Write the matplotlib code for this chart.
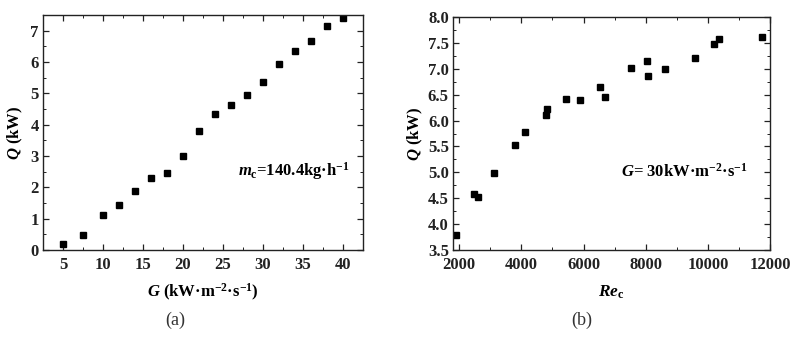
import matplotlib
matplotlib.use('Agg')
import matplotlib.pyplot as plt
from matplotlib.ticker import MultipleLocator, FormatStrFormatter

plt.rcParams['font.family'] = ['Liberation Serif', 'DejaVu Serif']
plt.rcParams['font.weight'] = 'bold'
plt.rcParams['mathtext.fontset'] = 'custom'
plt.rcParams['mathtext.rm'] = 'Liberation Serif:bold'
plt.rcParams['mathtext.it'] = 'Liberation Serif:italic:bold'
plt.rcParams['mathtext.bf'] = 'Liberation Serif:bold'

# (a) heat transfer vs mass flux
G_flux = [5, 7.5, 10, 12, 14, 16, 18, 20, 22, 24, 26, 28, 30, 32, 34, 36, 38, 40]
Q_a = [0.18, 0.47, 1.11, 1.43, 1.88, 2.30, 2.45, 3.01, 3.81, 4.33, 4.62, 4.95,
       5.37, 5.93, 6.35, 6.66, 7.16, 7.40]

# (b) heat transfer vs coolant Reynolds number
Re_c = [1910, 2490, 2600, 3135, 3795, 4130, 4790, 4830, 5430, 5900, 6530, 6680,
        7520, 8030, 8090, 8630, 9600, 10190, 10370, 11730]
Q_b = [3.79, 4.58, 4.52, 4.99, 5.52, 5.77, 6.10, 6.22, 6.41, 6.40, 6.65, 6.45,
       7.02, 7.15, 6.86, 6.99, 7.21, 7.47, 7.58, 7.62]

fig = plt.figure(figsize=(8, 3.38), dpi=100)
fig.patch.set_facecolor('white')
ax1 = fig.add_axes([43/800, 88/338, 320/800, 235/338])
ax2 = fig.add_axes([453/800, 88/338, 317/800, 233/338])

ax1.plot(G_flux, Q_a, 's', color='black', markersize=5)
ax2.plot(Re_c, Q_b, 's', color='black', markersize=5)

ax1.set_xlim(2.5, 42.5)
ax1.set_ylim(0, 7.5)
ax1.xaxis.set_major_locator(MultipleLocator(5))
ax1.xaxis.set_minor_locator(MultipleLocator(2.5))
ax1.yaxis.set_major_locator(MultipleLocator(1))
ax1.yaxis.set_minor_locator(MultipleLocator(0.5))

ax2.set_xlim(1800, 12000)
ax2.set_ylim(3.5, 8.0)
ax2.xaxis.set_major_locator(MultipleLocator(2000))
ax2.xaxis.set_minor_locator(MultipleLocator(1000))
ax2.yaxis.set_major_locator(MultipleLocator(0.5))
ax2.yaxis.set_minor_locator(MultipleLocator(0.25))
ax2.yaxis.set_major_formatter(FormatStrFormatter('%.1f'))

for ax in (ax1, ax2):
    for s in ax.spines.values():
        s.set_linewidth(1.0)
        s.set_color('#222222')
    ax.tick_params(which='both', direction='in', top=True, right=True,
                   labelsize=12, pad=3, colors='#222222')
    ax.tick_params(axis='x', which='major', pad=5)
    ax.tick_params(which='major', length=4, width=0.9)
    ax.tick_params(which='minor', length=2.5, width=0.7)
    for lab in ax.get_xticklabels() + ax.get_yticklabels():
        lab.set_fontweight('bold')

ax1.set_xlabel(r'$G$ (kW·m$^{-2}$·s$^{-1}$)', fontsize=12, fontweight='bold', va='center')
ax1.xaxis.set_label_coords(0.5, -42/235)
ax1.set_ylabel(r'$Q$ (kW)', fontsize=12, fontweight='bold', va='center')
ax1.yaxis.set_label_coords(-28/320, 0.5)

ax2.set_xlabel(r'$Re_{\mathrm{c}}$', fontsize=12.5, fontweight='bold', va='center')
ax2.xaxis.set_label_coords(0.5, -42/233)
ax2.set_ylabel(r'$Q$ (kW)', fontsize=12, fontweight='bold', va='center')
ax2.yaxis.set_label_coords(-38/317, 0.5)

ax1.text(0.96, 0.335, r'$m_{\mathrm{c}}$=140.4kg·h$^{-1}$', transform=ax1.transAxes,
         ha='right', va='center', fontsize=12, fontweight='bold')
ax2.text(0.93, 0.335, r'$G$= 30kW·m$^{-2}$·s$^{-1}$', transform=ax2.transAxes,
         ha='right', va='center', fontsize=12, fontweight='bold')

fig.text(175/800, 1 - 320/338, '(a)', ha='center', va='center',
         fontsize=13, fontweight='normal', color='#333333')
fig.text(582/800, 1 - 320/338, '(b)', ha='center', va='center',
         fontsize=13, fontweight='normal', color='#333333')

fig.savefig('out.png', dpi=100, facecolor='white')
